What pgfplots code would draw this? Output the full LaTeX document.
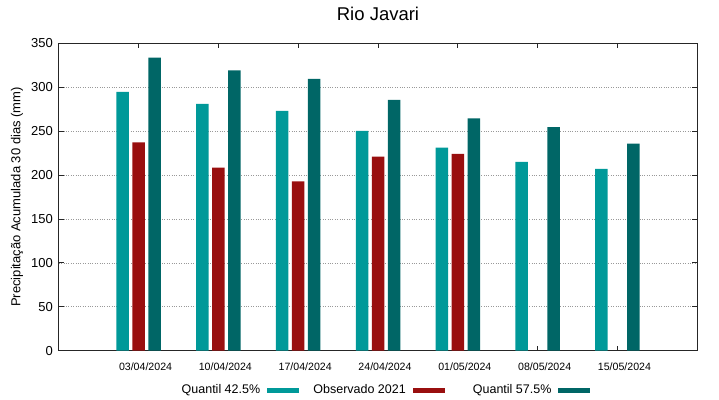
\documentclass[border=0pt]{standalone}
\usepackage{pgfplots}
\pgfplotsset{compat=1.18}
\usepackage{fontspec}
\setmainfont{Liberation Sans}
\definecolor{qa}{HTML}{009999}
\definecolor{obs}{HTML}{990F0F}
\definecolor{qb}{HTML}{006666}
\pgfplotstableread{
x qa obs qb
0 294.6 237.3 333.7
1 280.9 208.4 319.3
2 273.0 192.9 309.4
3 250.2 221.0 285.5
4 231.2 224.0 264.6
5 214.9 nan 254.7
6 206.9 nan 235.8
}\datatable
\begin{document}
\begin{tikzpicture}[x=1pt,y=1pt]
\useasboundingbox (0,0) rectangle (719,399);
\begin{axis}[
  at={(58.7pt,48.3pt)}, anchor=south west,
  scale only axis, width=638.6pt, height=307.4pt,
  xmin=-1, xmax=7, ymin=0, ymax=350,
  xtick={0,...,6},
  xticklabels={03/04/2024,10/04/2024,17/04/2024,24/04/2024,01/05/2024,08/05/2024,15/05/2024},
  ytick={0,50,...,350},
  tick align=inside,
  major tick length=5pt,
  axis line style={line width=0.9pt, black!85},
  tick style={line width=0.8pt, black!85},
  ymajorgrids,
  grid style={dotted, gray!80, line width=0.6pt},
  /pgf/number format/assume math mode=true,
  xticklabel style={font=\fontsize{10.6}{12}\selectfont, anchor=center, xshift=7pt, yshift=-16pt},
  yticklabel style={font=\fontsize{13}{15}\selectfont, xshift=-2.4pt},
  title={Rio Javari},
  title style={font=\fontsize{18.5}{21}\selectfont, at={(0.5,1)}, anchor=center, yshift=23pt},
  ylabel={Precipitação Acumulada 30 dias (mm)},
  ylabel style={font=\fontsize{13}{15}\selectfont, at={(axis description cs:-0.0653,0.5)}, anchor=center},
  legend columns=3,
  legend plot pos=right,
  legend style={draw=none, fill=none, at={(rel axis cs:0.5,0)}, anchor=center, xshift=-5pt, yshift=-39.5pt,
    font=\fontsize{12.5}{14}\selectfont,
    /tikz/every even column/.append style={column sep=2pt}},
  legend image code/.code={\fill (0pt,-2.4pt) rectangle (32pt,2.4pt);},
]
\addplot[ybar, bar width=12.5pt, bar shift=-16pt, fill=qa, draw=none] table[x=x, y=qa] {\datatable};
\addlegendentry{\makebox[107.6pt][r]{Quantil 42.5\%\hspace{5pt}}}
\addplot[ybar, bar width=12.5pt, bar shift=0pt, fill=obs, draw=none] table[x=x, y=obs] {\datatable};
\addlegendentry{\makebox[107.6pt][r]{Observado 2021\hspace{5pt}}}
\addplot[ybar, bar width=12.5pt, bar shift=16pt, fill=qb, draw=none] table[x=x, y=qb] {\datatable};
\addlegendentry{\makebox[107.6pt][r]{Quantil 57.5\%\hspace{5pt}}}
\end{axis}
\end{tikzpicture}
\end{document}
